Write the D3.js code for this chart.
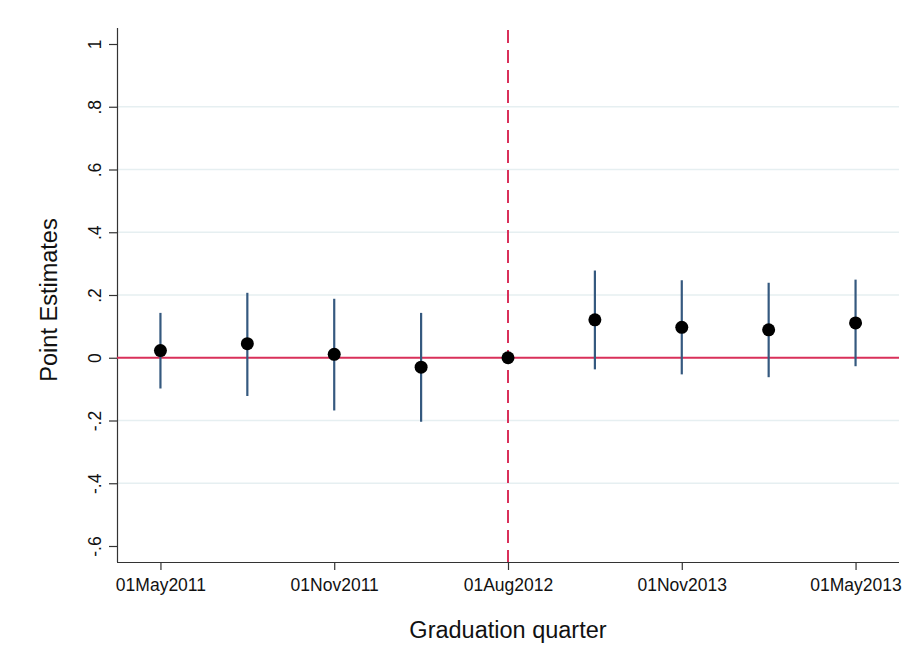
<!DOCTYPE html>
<html>
<head>
<meta charset="utf-8">
<script src="https://cdn.jsdelivr.net/npm/d3@7"></script>
<style>
  html, body { margin: 0; padding: 0; background: #fff; }
  svg { display: block; font-family: "Liberation Sans", Arial, sans-serif; }
</style>
</head>
<body>
<svg id="chart" width="914" height="648"></svg>
<script>
// ---- data ----
const positions = [1, 2, 3, 4, 5, 6, 7, 8, 9];
const estimates = [0.023, 0.045, 0.011, -0.030, 0.000, 0.121, 0.097, 0.089, 0.111];
const ciLower   = [-0.098, -0.122, -0.168, -0.204, 0.000, -0.037, -0.053, -0.062, -0.027];
const ciUpper   = [0.143, 0.207, 0.188, 0.143, 0.000, 0.278, 0.247, 0.239, 0.249];
const xTickPositions = [1, 3, 5, 7, 9];
const xTickLabels = ["01May2011", "01Nov2011", "01Aug2012", "01Nov2013", "01May2013"];
const yTicks = [-0.6, -0.4, -0.2, 0, 0.2, 0.4, 0.6, 0.8, 1];
const eventPosition = 5;
const xTitle = "Graduation quarter";
const yTitle = "Point Estimates";

// ---- layout ----
const svg = d3.select("#chart");
const pLeft = 117, pRight = 899, pTop = 30, pBottom = 562;

const x = d3.scaleLinear().domain([0.5, 9.5]).range([pLeft, pRight]);
const y = d3.scaleLinear().domain([-0.6, 1]).range([546, 44]);

// Stata-style labels: 1, .8, 0, -.2
const fmt = v => {
  const a = Math.abs(v);
  if (a < 1e-9) return "0";
  let s = (Math.round(a * 10) / 10).toString();
  s = s.replace(/^0\./, ".");
  return (v < 0 ? "-" : "") + s;
};

// gridlines
svg.append("g").selectAll("line")
  .data(yTicks.filter(v => v !== 0 && v !== 1 && v !== -0.6))
  .join("line")
  .attr("x1", pLeft).attr("x2", pRight)
  .attr("y1", d => y(d)).attr("y2", d => y(d))
  .attr("stroke", "#e6eff1").attr("stroke-width", 1.5);

// y axis
const yAxis = d3.axisLeft(y).tickValues(yTicks).tickFormat(fmt).tickSize(8).tickPadding(7);
const gy = svg.append("g").attr("transform", `translate(${pLeft},0)`).call(yAxis);
gy.select(".domain").attr("d", `M0.5,${pTop - 2}V${pBottom}`).attr("stroke", "#333").attr("stroke-width", 1.2);
gy.selectAll(".tick line").attr("stroke", "#333").attr("stroke-width", 1.2);
gy.selectAll(".tick text")
  .attr("font-size", 17.5)
  .attr("fill", "#111")
  .attr("font-family", "Liberation Sans, Arial, sans-serif")
  .attr("text-anchor", "middle")
  .attr("dy", 0)
  .attr("x", 0)
  .attr("transform", "translate(-16,0) rotate(-90)");

// x axis
const xAxis = d3.axisBottom(x).tickValues(xTickPositions)
  .tickFormat((d, i) => xTickLabels[i]).tickSize(8).tickPadding(9);
const gx = svg.append("g").attr("transform", `translate(0,${pBottom})`).call(xAxis);
gx.select(".domain").attr("d", `M${pLeft},0.5H${pRight}`).attr("stroke", "#333").attr("stroke-width", 1.2);
gx.selectAll(".tick line").attr("stroke", "#333").attr("stroke-width", 1.2);
gx.selectAll(".tick text")
  .attr("font-size", 17.5)
  .attr("fill", "#111")
  .attr("font-family", "Liberation Sans, Arial, sans-serif");

// zero reference line
svg.append("line")
  .attr("x1", pLeft).attr("x2", pRight)
  .attr("y1", y(0)).attr("y2", y(0))
  .attr("stroke", "#d9305a").attr("stroke-width", 2);

// event dashed line
svg.append("line")
  .attr("x1", x(eventPosition)).attr("x2", x(eventPosition))
  .attr("y1", pTop).attr("y2", pBottom)
  .attr("stroke", "#d9305a").attr("stroke-width", 2)
  .attr("stroke-dasharray", "13,7");

// CI bars
svg.append("g").selectAll("line")
  .data(positions.map((p, i) => ({p, lo: ciLower[i], hi: ciUpper[i]})))
  .join("line")
  .attr("x1", d => x(d.p)).attr("x2", d => x(d.p))
  .attr("y1", d => y(d.lo)).attr("y2", d => y(d.hi))
  .attr("stroke", "#35597f").attr("stroke-width", 2.2);

// points
svg.append("g").selectAll("circle")
  .data(positions.map((p, i) => ({p, v: estimates[i]})))
  .join("circle")
  .attr("cx", d => x(d.p)).attr("cy", d => y(d.v))
  .attr("r", 6.5).attr("fill", "#000");

// titles
svg.append("text")
  .attr("x", (pLeft + pRight) / 2).attr("y", 638)
  .attr("text-anchor", "middle")
  .attr("font-size", 23.5).attr("fill", "#111")
  .text(xTitle);

svg.append("text")
  .attr("transform", `translate(57,${(pTop + pBottom) / 2 + 4}) rotate(-90)`)
  .attr("text-anchor", "middle")
  .attr("font-size", 23.5).attr("fill", "#111")
  .text(yTitle);
</script>
</body>
</html>
